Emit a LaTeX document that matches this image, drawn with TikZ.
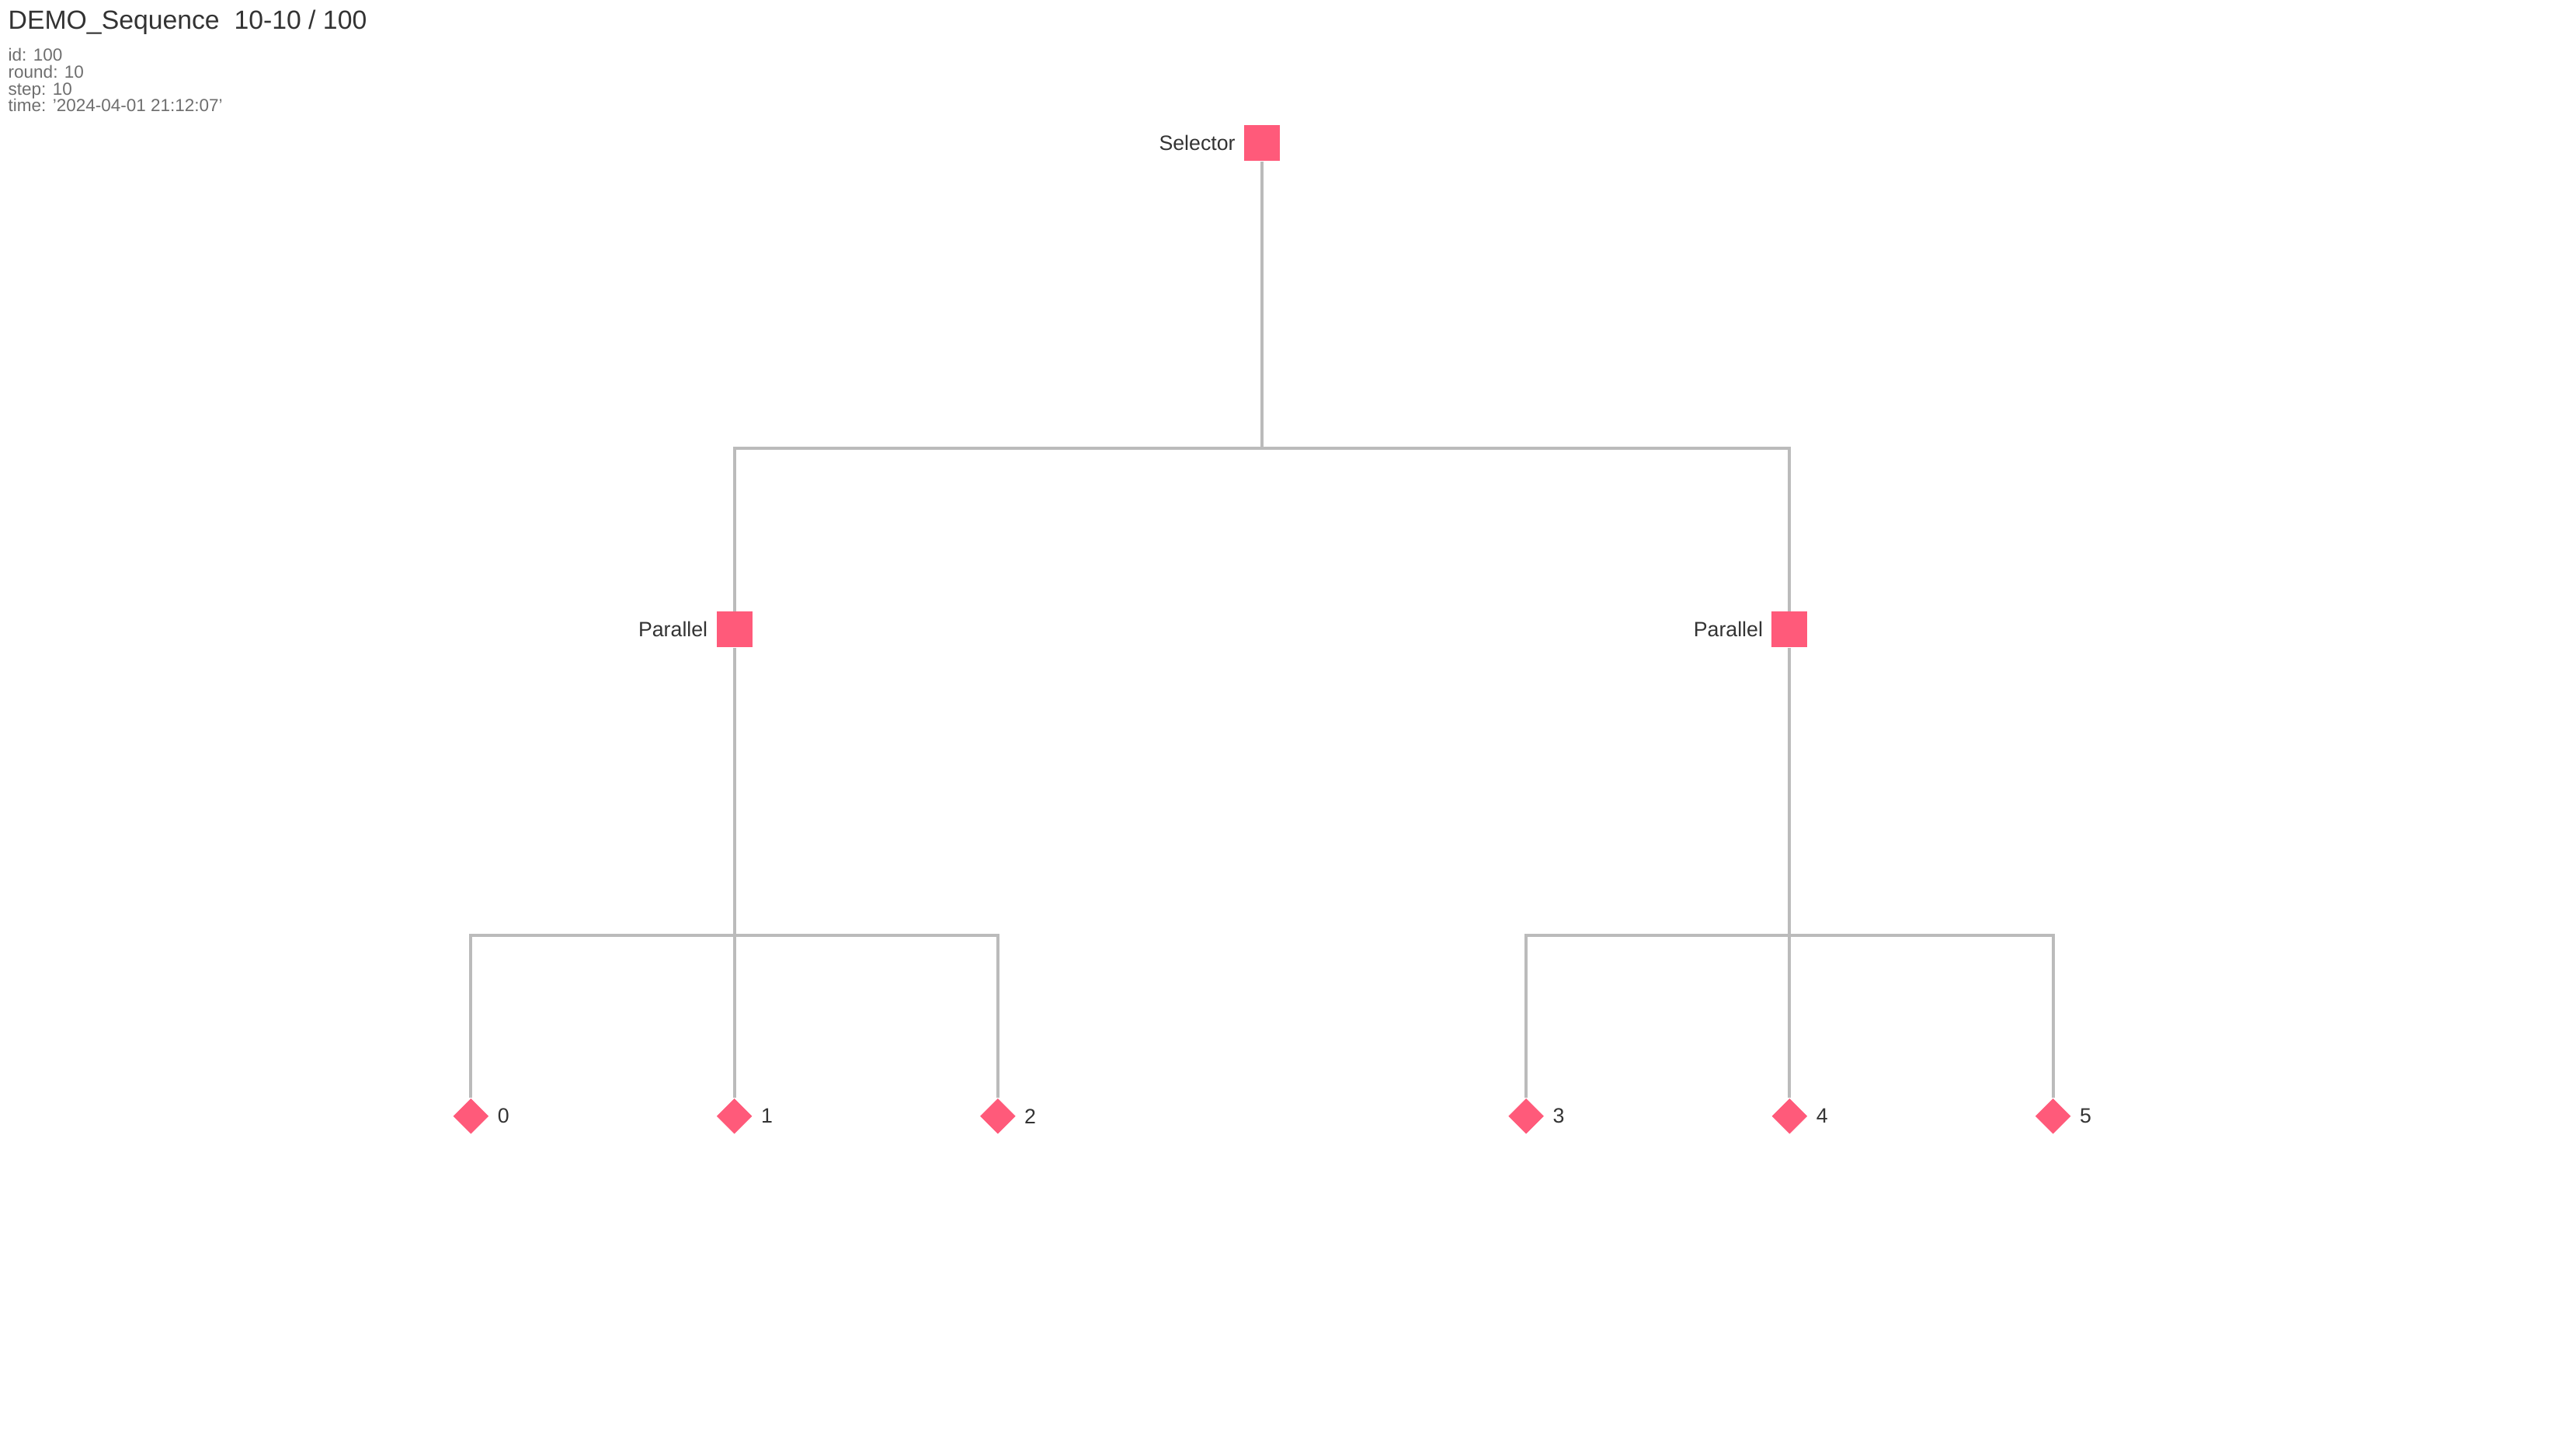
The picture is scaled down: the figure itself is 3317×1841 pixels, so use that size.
\documentclass[tikz,border=0pt]{standalone}
\usepackage{fontspec}
\setmainfont{Liberation Sans}
\usetikzlibrary{shapes.geometric, positioning}
\definecolor{nodepink}{HTML}{FF5A7A}
\definecolor{linkgrey}{HTML}{BBBBBB}
\definecolor{labelgrey}{HTML}{333333}
\definecolor{metagrey}{HTML}{6E6E6E}
\tikzset{
    x=0.01cm, y=-0.01cm, % one unit is one pixel of the picture, y going down
    node distance=6.26cm and 6.79cm, % level gap and gap between the two branches
    on grid,
    lbl/.style={text=labelgrey, inner sep=0pt, font=\fontsize{7.6}{9}\selectfont},
    label distance=0.1cm,
}

\begin{document}
\begin{tikzpicture}[
        ctrl/.style={rectangle, fill=nodepink, minimum size=0.46cm, inner sep=0pt},
        leaf/.style={diamond, fill=nodepink, minimum width=0.46cm, minimum height=0.46cm, inner sep=0pt},
        link/.style={draw=linkgrey, line width=1.1pt},
        meta/.style={anchor=base west, inner sep=0pt, text=metagrey, font=\fontsize{6.4}{7}\selectfont},
    ]
    \useasboundingbox (0,0) rectangle (3317,1841);
    \node[anchor=base west, inner sep=0pt, text=labelgrey, font=\fontsize{9.6}{11}\selectfont] (title) at (10,37) {DEMO\_Sequence\ \ 10-10 / 100};
    \node[meta] (id) at (10,78) {id: 100};
    \node[meta] (round) at (10,100) {round: 10};
    \node[meta] (stepno) at (10,122) {step: 10};
    \node[meta] (time) at (10,143) {time: '2024-04-01 21:12:07'};

    \node[ctrl, label={[lbl]left:Selector}] (sel) at (1625,184) {};
    \node[ctrl, below left=of sel, label={[lbl]left:Parallel}] (par1) {};
    \node[ctrl, below right=of sel, label={[lbl]left:Parallel}] (par2) {};
    \node[leaf, below left=6.26cm and 3.39cm of par1, label={[lbl]right:0}] (leaf0) {};
    \node[leaf, below=6.26cm of par1, label={[lbl]right:1}] (leaf1) {};
    \node[leaf, below right=6.26cm and 3.39cm of par1, label={[lbl]right:2}] (leaf2) {};
    \node[leaf, below left=6.26cm and 3.39cm of par2, label={[lbl]right:3}] (leaf3) {};
    \node[leaf, below=6.26cm of par2, label={[lbl]right:4}] (leaf4) {};
    \node[leaf, below right=6.26cm and 3.39cm of par2, label={[lbl]right:5}] (leaf5) {};

    \coordinate (j0) at (1625,577);
    \coordinate (j1) at (par1 |- 0,1204);
    \coordinate (j2) at (par2 |- 0,1204);
    \draw[link]
    (sel.south) -- (j0) -| (par1.north)
    (j0) -| (par2.north)
    (par1.south) -- (leaf1.north)
    (j1) -| (leaf0.north)
    (j1) -| (leaf2.north)
    (par2.south) -- (leaf4.north)
    (j2) -| (leaf3.north)
    (j2) -| (leaf5.north);
\end{tikzpicture}
\end{document}
